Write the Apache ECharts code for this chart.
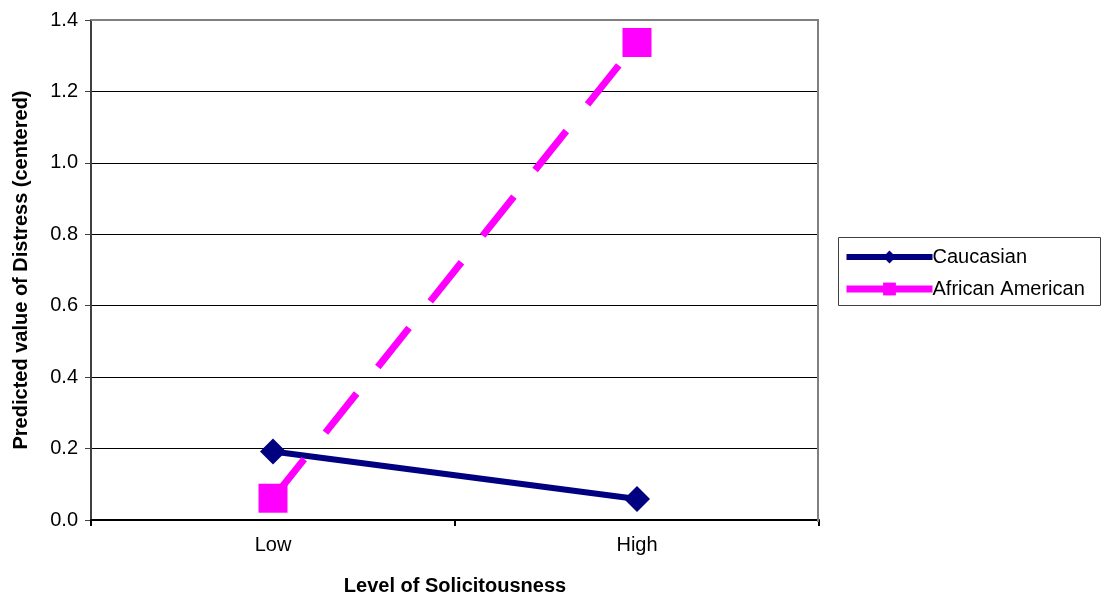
<!DOCTYPE html>
<html>
<head>
<meta charset="utf-8">
<script src="https://cdn.jsdelivr.net/npm/echarts@6/dist/echarts.min.js"></script>
<style>
  html, body { margin: 0; padding: 0; background: #fff; }
  #chart { width: 1102px; height: 601px; }
</style>
</head>
<body>
<div id="chart"></div>
<script>
// Predicted distress by level of solicitousness, per group
const categories = ['Low', 'High'];
const caucasian = [0.192, 0.059];
const africanAmerican = [0.061, 1.337];
const yTicks = { min: 0, max: 1.4, interval: 0.2 };

const FONT = '"Liberation Sans", Arial, sans-serif';

const chart = echarts.init(document.getElementById('chart'), null, { renderer: 'canvas' });

chart.setOption({
  animation: false,
  backgroundColor: '#ffffff',
  textStyle: { fontFamily: FONT, color: '#000' },
  grid: {
    left: 91, top: 20, right: 283, bottom: 79,
    show: false
  },
  graphic: [
    {
      // legend frame
      type: 'rect',
      shape: { x: 838.5, y: 237.5, width: 262, height: 68 },
      style: { fill: '#fff', stroke: '#404040', lineWidth: 1 },
      z: -1
    },
    {
      // plot area frame, top and right edges
      type: 'polyline',
      shape: { points: [[91, 20], [818, 20], [818, 522]] },
      style: { stroke: '#808080', lineWidth: 2, fill: null },
      z: 10
    }
  ],
  legend: {
    orient: 'vertical',
    left: 838,
    top: 247,
    itemWidth: 86,
    itemHeight: 16,
    itemGap: 12,
    padding: [0, 0, 0, 5],
    textStyle: { fontFamily: FONT, fontSize: 20, color: '#000', padding: [0, 0, 0, -5] },
    data: [
      { name: 'Caucasian', lineStyle: { width: 6, type: 'solid' } },
      { name: 'African American', lineStyle: { width: 7, type: 'solid' } }
    ]
  },
  xAxis: {
    type: 'category',
    data: categories,
    boundaryGap: true,
    name: 'Level of Solicitousness',
    nameLocation: 'middle',
    nameGap: 56,
    nameTextStyle: { fontFamily: FONT, fontSize: 20, fontWeight: 'bold', color: '#000' },
    axisLine: { lineStyle: { color: '#000', width: 2 } },
    axisTick: { show: true, length: 6, lineStyle: { color: '#000', width: 2 } },
    axisLabel: { fontFamily: FONT, fontSize: 20, color: '#000', margin: 15 },
    splitLine: { show: false }
  },
  yAxis: {
    type: 'value',
    min: yTicks.min,
    max: yTicks.max,
    interval: yTicks.interval,
    name: 'Predicted value of Distress (centered)',
    nameLocation: 'middle',
    nameRotate: 90,
    nameGap: 60,
    nameTextStyle: { fontFamily: FONT, fontSize: 20, fontWeight: 'bold', color: '#000' },
    axisLine: { show: true, lineStyle: { color: '#404040', width: 2 } },
    axisTick: { show: true, length: 6, lineStyle: { color: '#404040', width: 1 } },
    axisLabel: {
      fontFamily: FONT, fontSize: 20, color: '#000', margin: 13,
      formatter: v => v.toFixed(1)
    },
    splitLine: { show: true, lineStyle: { color: '#000', width: 1 } }
  },
  series: [
    {
      name: 'Caucasian',
      type: 'line',
      data: caucasian,
      symbol: 'diamond',
      symbolSize: 26,
      lineStyle: { color: '#000080', width: 6 },
      itemStyle: { color: '#000080' },
      z: 3
    },
    {
      name: 'African American',
      type: 'line',
      data: africanAmerican,
      symbol: 'rect',
      symbolSize: 29,
      lineStyle: { color: '#ff00ff', width: 7, type: [50, 34], cap: 'butt' },
      itemStyle: { color: '#ff00ff' },
      z: 4
    }
  ]
});
</script>
</body>
</html>
